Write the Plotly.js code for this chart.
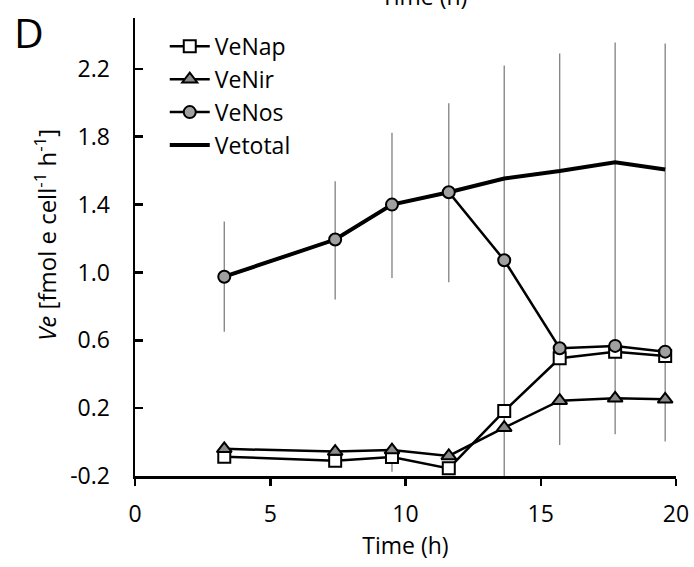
<!DOCTYPE html>
<html>
<head>
<meta charset="utf-8">
<script src="https://cdn.plot.ly/plotly-3.0.1.min.js"></script>
<style>html,body{margin:0;padding:0;background:#fff;}#chart{width:694px;height:567px;}</style>
</head>
<body>
<div id="chart"></div>
<script>
// Data
var timeH   = [3.3, 7.4, 9.5, 11.6, 13.65, 15.7, 17.75, 19.6];
var veNap   = [-0.086, -0.11, -0.088, -0.155, 0.183, 0.494, 0.533, 0.508];
var veNir   = [-0.04, -0.056, -0.047, -0.082, 0.085, 0.244, 0.258, 0.252];
var veNos   = [0.975, 1.194, 1.40, 1.473, 1.072, 0.553, 0.567, 0.533];
var veTotal = [0.975, 1.194, 1.40, 1.473, 1.554, 1.598, 1.65, 1.607];
var totalErrPlus  = [0.325, 0.344, 0.424, 0.524, 0.666, 0.692, 0.706, 0.743];
var totalErrMinus = [0.325, 0.354, 0.433, 0.531, 1.754, 1.615, 1.604, 1.604];
var napErrMinus   = [0, 0, 0.087, 0, 0, 0, 0, 0];
var yTickVals = [-0.2, 0.2, 0.6, 1.0, 1.4, 1.8, 2.2];
var yTickText = ['-0.2', '0.2', '0.6', '1.0', '1.4', '1.8', '2.2'];

var FONT = 'Open Sans, Liberation Sans, sans-serif';
var FS = 23;

var traces = [
  {
    x: timeH, y: veTotal, name: 'Vetotal', type: 'scatter', mode: 'lines',
    line: {color: '#000', width: 4}, legendrank: 4,
    error_y: {type: 'data', symmetric: false, array: totalErrPlus, arrayminus: totalErrMinus,
              color: '#808080', thickness: 1.3, width: 0}
  },
  {
    x: timeH, y: veNap, name: 'VeNap', type: 'scatter', mode: 'lines+markers',
    line: {color: '#000', width: 2.5}, legendrank: 1,
    marker: {symbol: 'square', size: 12, color: '#fff', line: {color: '#000', width: 2}},
    error_y: {type: 'data', symmetric: false, array: [0,0,0,0,0,0,0,0], arrayminus: napErrMinus,
              color: '#808080', thickness: 1.3, width: 0}
  },
  {
    x: timeH, y: veNir, name: 'VeNir', type: 'scatter', mode: 'lines+markers',
    line: {color: '#000', width: 2.5}, legendrank: 2,
    marker: {symbol: 'triangle-up', size: 13, color: '#8a8a8a', line: {color: '#000', width: 2}}
  },
  {
    x: timeH, y: veNos, name: 'VeNos', type: 'scatter', mode: 'lines+markers',
    line: {color: '#000', width: 2.5}, legendrank: 3,
    marker: {symbol: 'circle', size: 12, color: '#a0a0a0', line: {color: '#000', width: 2}}
  }
];

var layout = {
  width: 694, height: 567,
  margin: {l: 135, r: 18, t: 18, b: 91, pad: 0},
  paper_bgcolor: '#fff', plot_bgcolor: '#fff',
  font: {family: FONT, size: FS, color: '#000'},
  showlegend: true,
  legend: {x: 0.055, y: 0.985, xanchor: 'left', yanchor: 'top', bgcolor: 'rgba(0,0,0,0)',
           font: {family: FONT, size: FS, color: '#000'}, itemwidth: 40, tracegroupgap: 0},
  xaxis: {
    range: [0, 20], tickmode: 'linear', tick0: 0, dtick: 5,
    showgrid: false, zeroline: false, showline: true, linecolor: '#000', linewidth: 2.5,
    ticks: 'outside', ticklen: 7, tickwidth: 2.5, tickcolor: '#000', ticklabelstandoff: 9,
    tickfont: {family: FONT, size: FS, color: '#000'},
    title: {text: 'Time (h)', font: {family: FONT, size: FS, color: '#000'}, standoff: 8}
  },
  yaxis: {
    range: [-0.2, 2.5], tickmode: 'array', tickvals: yTickVals, ticktext: yTickText,
    showgrid: false, zeroline: false, showline: true, linecolor: '#000', linewidth: 2.5,
    ticks: 'inside', ticklen: 8, tickwidth: 2.5, tickcolor: '#000', ticklabelstandoff: 18,
    tickfont: {family: FONT, size: FS, color: '#000'}
  },
  annotations: [
    {text: '<i>Ve</i> [fmol e cell<sup>-1</sup> h<sup>-1</sup>]', textangle: -90,
     xref: 'paper', yref: 'paper', x: -0.166, y: 0.527, xanchor: 'center', yanchor: 'middle',
     showarrow: false, font: {family: FONT, size: 24, color: '#000'}},
    {text: 'D', xref: 'paper', yref: 'paper', x: -0.228, y: 1.035, xanchor: 'left', yanchor: 'top',
     showarrow: false, font: {family: FONT, size: 41, color: '#000'}},
    {text: 'Time (h)', xref: 'paper', yref: 'paper', x: 0.535, y: 1.008, xanchor: 'center', yanchor: 'bottom',
     showarrow: false, font: {family: FONT, size: FS, color: '#000'}}
  ]
};

Plotly.newPlot('chart', traces, layout, {displayModeBar: false, staticPlot: true});
</script>
</body>
</html>
